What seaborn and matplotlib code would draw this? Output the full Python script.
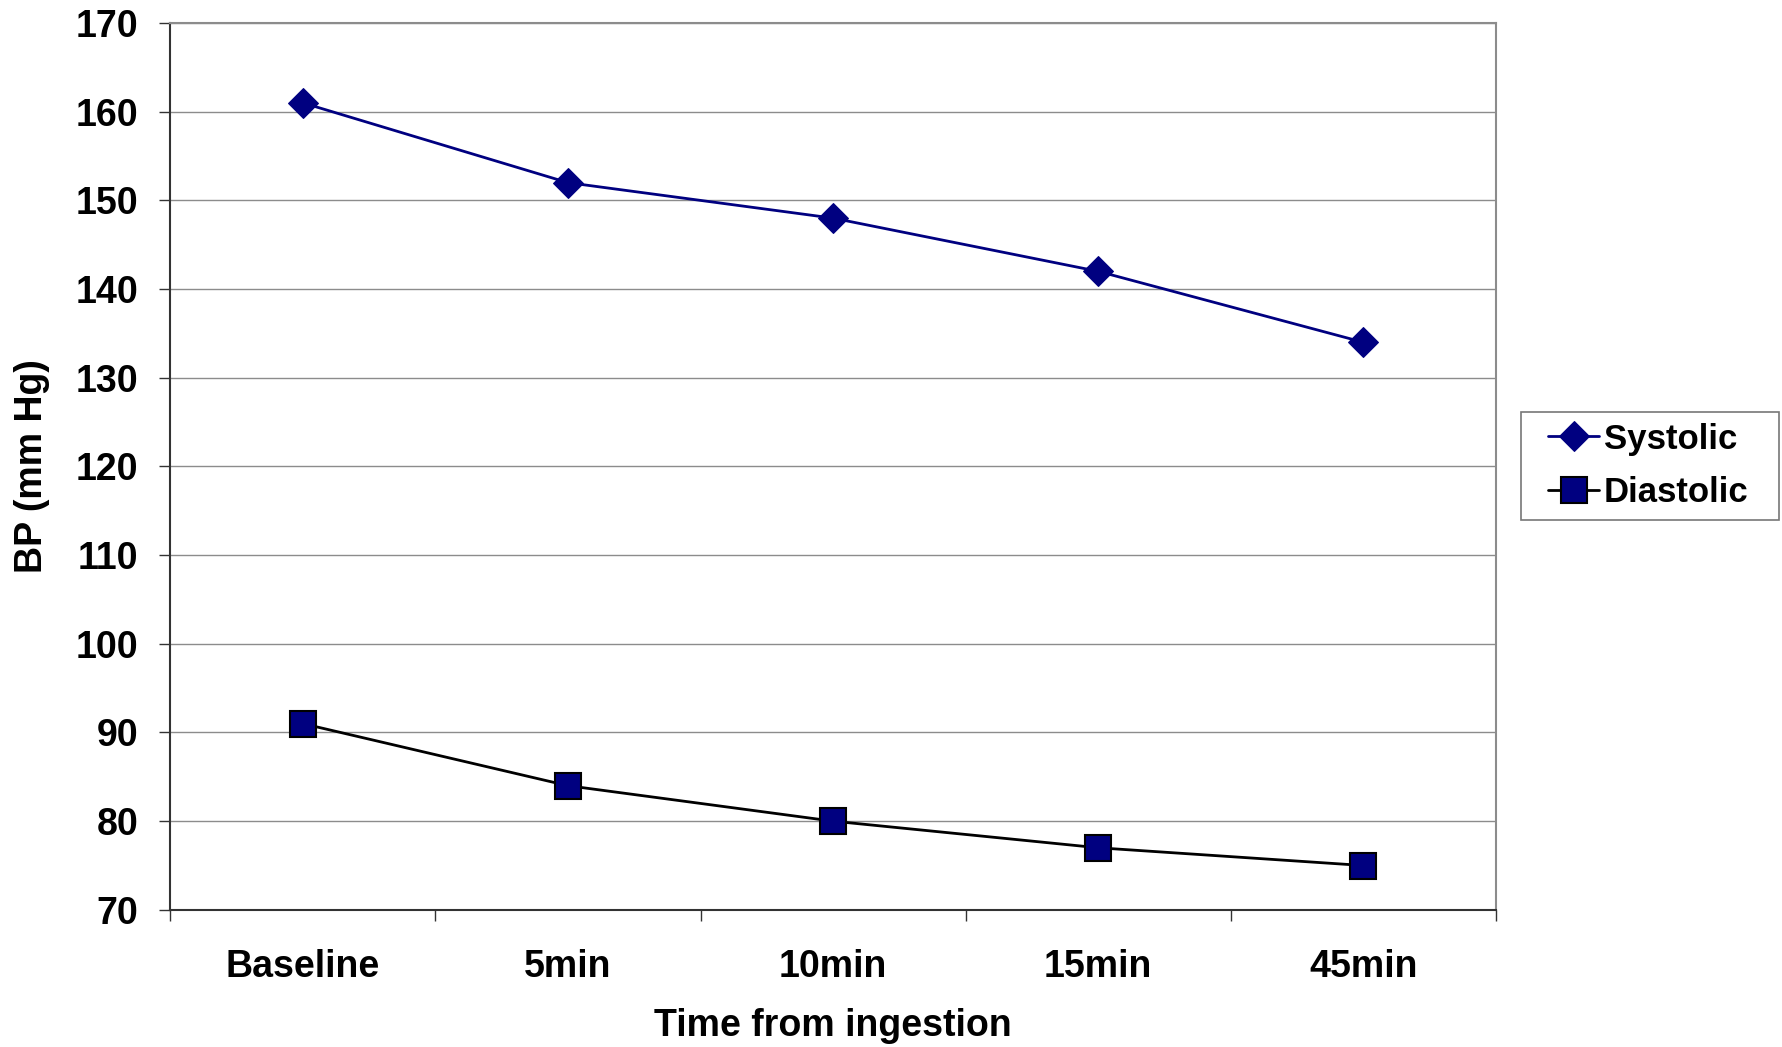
import pandas as pd
import matplotlib.pyplot as plt
import seaborn as sns
import numpy as np
from matplotlib.lines import Line2D
from matplotlib.legend_handler import HandlerLine2D

# === data ===
time_points = ["Baseline", "5min", "10min", "15min", "45min"]
systolic = [161, 152, 148, 142, 134]
diastolic = [91, 84, 80, 77, 75]
y_ticks = [70, 80, 90, 100, 110, 120, 130, 140, 150, 160, 170]

sns.set_theme(style="white")
plt.rcParams['font.family'] = ['Liberation Sans', 'DejaVu Sans']
plt.rcParams['font.weight'] = 'bold'
plt.rcParams['text.color'] = 'black'
plt.rcParams['axes.labelcolor'] = 'black'
plt.rcParams['xtick.color'] = 'black'
plt.rcParams['ytick.color'] = 'black'

df = pd.DataFrame({"Time": time_points, "Systolic": systolic, "Diastolic": diastolic})

fig = plt.figure(figsize=(17.82, 10.47), dpi=100)
ax = fig.add_axes([0.0955, 0.131, 0.744, 0.847])

navy = "#000080"
sns.lineplot(data=df, x="Time", y="Systolic", ax=ax, color=navy, lw=2,
             marker="D", markersize=15, markerfacecolor=navy, markeredgecolor=navy,
             label="Systolic", sort=False)
sns.lineplot(data=df, x="Time", y="Diastolic", ax=ax, color="black", lw=2,
             marker="s", markersize=19, markerfacecolor=navy, markeredgecolor="black",
             markeredgewidth=1.5, label="Diastolic", sort=False)

ax.set_xlim(-0.5, len(time_points) - 0.5)
ax.set_ylim(70, 170)
ax.set_yticks(y_ticks)
ax.set_xticks(range(len(time_points)))
ax.set_xticklabels(time_points)
ax.set_xticks(np.arange(-0.5, len(time_points), 1.0), minor=True)

ax.yaxis.grid(True, color="#8c8c8c", lw=1.0)
ax.set_axisbelow(True)

ax.tick_params(axis="x", which="major", length=0, pad=28, labelsize=27, labelcolor="black")
ax.tick_params(axis="x", which="minor", length=8, width=1, color="#333333", direction="out", bottom=True)
ax.tick_params(axis="y", length=8, width=1, color="#333333", direction="out", left=True, pad=15,
               labelsize=27, labelcolor="black")
for lab in ax.get_xticklabels() + ax.get_yticklabels():
    lab.set_fontweight("bold")

ax.spines["left"].set_color("#333333")
ax.spines["bottom"].set_color("#333333")
ax.spines["top"].set_color("#8c8c8c")
ax.spines["right"].set_color("#8c8c8c")
for s in ax.spines.values():
    s.set_linewidth(1.5)

ax.set_xlabel("Time from ingestion", fontsize=27, fontweight="bold", labelpad=17, color="black")
ax.set_ylabel("BP (mm Hg)", fontsize=27, fontweight="bold", labelpad=18, color="black")

# legend box to the right of the plot, handle shifted in from the frame
leg = ax.legend(loc="center left", bbox_to_anchor=(0.8533, 0.5024, 0.145, 0.105),
                bbox_transform=fig.transFigure, mode="expand", borderaxespad=0,
                frameon=True, fancybox=False,
                prop={"size": 25, "weight": "bold"}, handlelength=1.95, handletextpad=0.15,
                borderpad=0.3, labelspacing=0.6,
                handler_map={Line2D: HandlerLine2D(xpad=0.5)})
leg.get_frame().set_edgecolor("#555555")
leg.get_frame().set_linewidth(1.2)
for t in leg.get_texts():
    t.set_color("black")

plt.savefig("out.png", dpi=100)
